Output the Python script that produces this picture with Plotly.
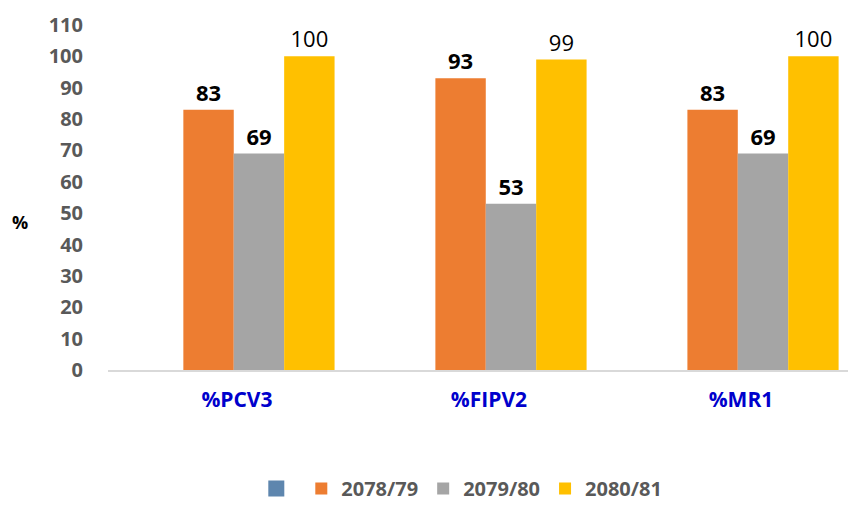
import plotly.graph_objects as go

categories = ["%PCV3", "%FIPV2", "%MR1"]
series_names = ["2078/79", "2079/80", "2080/81"]
vals_2078 = [83, 93, 83]
vals_2079 = [69, 53, 69]
vals_2080 = [100, 99, 100]
y_ticks = [0, 10, 20, 30, 40, 50, 60, 70, 80, 90, 100, 110]

colors = ["#ED7D31", "#A5A5A5", "#FFC000"]
label_bold = [True, True, False]
FONT = "Open Sans"

fig = go.Figure()
# placeholder legend entry (unnamed picture icon in the original)
fig.add_trace(go.Scatter(x=[None], y=[None], name="", mode="markers",
                         marker=dict(symbol="square", size=17, color="#5E86AE"),
                         showlegend=True, hoverinfo="skip"))
for name, vals, col, bold in zip(series_names, [vals_2078, vals_2079, vals_2080], colors, label_bold):
    fig.add_trace(go.Bar(
        x=categories, y=vals, name=name, marker_color=col,
        marker_line_width=0,
        text=vals,
        textposition="outside", cliponaxis=False,
        textfont=dict(family=FONT, size=22, color="#000000",
                      weight="bold" if bold else "normal"),
    ))

fig.update_layout(
    width=848, height=500,
    margin=dict(l=100, r=0, t=17, b=138, autoexpand=False),
    paper_bgcolor="white", plot_bgcolor="white",
    barmode="group", bargap=0.4, bargroupgap=0,
    font=dict(family=FONT),
    showlegend=True,
    legend=dict(orientation="h", x=0.473, xanchor="center",
                yref="container", y=0.0, yanchor="bottom",
                font=dict(family=FONT, size=20, color="#595959", weight="bold"),
                traceorder="normal", itemwidth=30),
    xaxis=dict(type="category", range=[-0.599, 2.369], showgrid=False,
               showline=True, linecolor="#D9D9D9", linewidth=2,
               ticks="", tickfont=dict(family=FONT, size=21, color="#0000CC", weight="bold"),
               ticklabelstandoff=10, ticklabelshift=-22, automargin=False),
    yaxis=dict(range=[0, 110], tickvals=y_ticks, showgrid=False, zeroline=False,
               showline=False, ticks="", ticklabelstandoff=24, automargin=False,
               tickfont=dict(family=FONT, size=20, color="#595959", weight="bold")),
    annotations=[dict(text="%", xref="paper", yref="paper", x=-0.131, y=0.43,
                      showarrow=False, font=dict(family=FONT, size=18, color="#000000", weight="bold"))],
)

fig.write_html("out.html")
